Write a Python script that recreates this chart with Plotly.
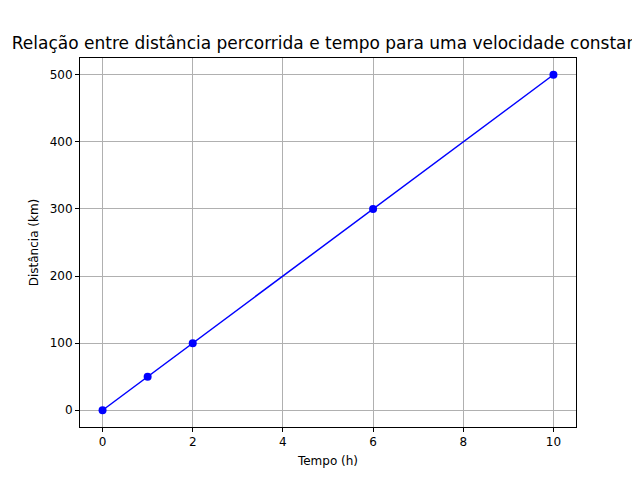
import plotly.graph_objects as go

tempo = [0, 1, 2, 6, 10]
distancia = [0, 50, 100, 300, 500]

fig = go.Figure(go.Scatter(
    x=tempo, y=distancia, mode="lines+markers",
    line=dict(color="blue", width=1.5),
    marker=dict(color="blue", size=8),
))

axis = dict(showline=True, mirror=True, linecolor="black", linewidth=1,
            ticks="outside", ticklen=4, tickcolor="black",
            showgrid=True, gridcolor="#b0b0b0", gridwidth=1, zeroline=False,
            tickfont=dict(size=12, color="black"))

fig.update_layout(
    width=640, height=480,
    paper_bgcolor="white", plot_bgcolor="white",
    font=dict(family="DejaVu Sans", color="black"),
    margin=dict(l=72, r=72, t=50, b=61),
    showlegend=False,
    title=dict(text="Relação entre distância percorrida e tempo para uma velocidade constante",
               x=0.508, xanchor="center", y=0.927, yanchor="middle",
               font=dict(size=17, color="black")),
    xaxis=dict(axis, range=[-0.5, 10.5], tickvals=[0, 2, 4, 6, 8, 10],
               title=dict(text="Tempo (h)", font=dict(size=12), standoff=8)),
    yaxis=dict(axis, range=[-25, 525], tickvals=[0, 100, 200, 300, 400, 500],
               title=dict(text="Distância (km)", font=dict(size=12), standoff=8)),
)

fig.write_html("out.html")
